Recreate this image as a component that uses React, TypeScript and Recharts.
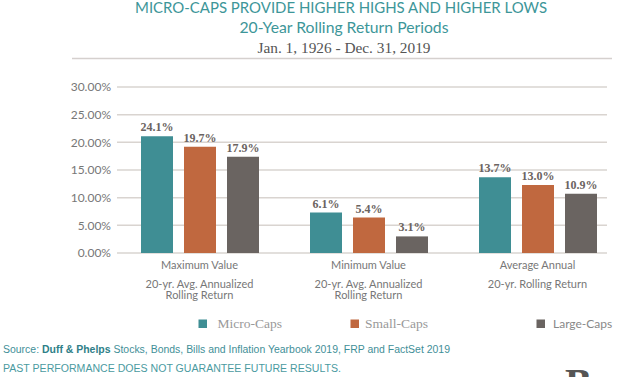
import React from 'react';
import { BarChart, Bar, XAxis, YAxis, CartesianGrid, LabelList } from 'recharts';

const categories = ['Maximum Value', 'Minimum Value', 'Average Annual'];
const categoryNotes = [
  ['20-yr. Avg. Annualized', 'Rolling Return'],
  ['20-yr. Avg. Annualized', 'Rolling Return'],
  ['20-yr. Rolling Return'],
];

// bar heights as drawn, labels as printed
const microCaps = [21.1, 7.3, 13.7];
const smallCaps = [19.2, 6.4, 12.3];
const largeCaps = [17.4, 3.0, 10.7];

const microLabels = ['24.1%', '6.1%', '13.7%'];
const smallLabels = ['19.7%', '5.4%', '13.0%'];
const largeLabels = ['17.9%', '3.1%', '10.9%'];

const yTicks = [0, 5, 10, 15, 20, 25, 30];

const SERIES = [
  { key: 'micro', label: 'microLabel', name: 'Micro-Caps', color: '#3f8e94' },
  { key: 'small', label: 'smallLabel', name: 'Small-Caps', color: '#c0683f' },
  { key: 'large', label: 'largeLabel', name: 'Large-Caps', color: '#6a6461' },
];

const data = categories.map((name, i) => ({
  name,
  micro: microCaps[i],
  small: smallCaps[i],
  large: largeCaps[i],
  microLabel: microLabels[i],
  smallLabel: smallLabels[i],
  largeLabel: largeLabels[i],
}));

const TEAL = '#3d9699';
const SANS = 'Lato, "Open Sans", sans-serif';
const SERIF = '"Liberation Serif", "DejaVu Serif", serif';

function CategoryTick(props: any) {
  const { x, y, payload, index } = props;
  const notes = categoryNotes[index] ?? [];
  return (
    <g>
      <text x={x} y={y + 16} textAnchor="middle" fontFamily={SANS} fontSize={11} fill="#777">
        {payload.value}
      </text>
      {notes.map((line, j) => (
        <text key={j} x={x} y={y + 34.5 + j * 11.6} textAnchor="middle" fontFamily={SANS} fontSize={11} fill="#777">
          {line}
        </text>
      ))}
    </g>
  );
}

export default function App() {
  return (
    <div style={{ position: 'absolute', left: 0, top: 0, width: 630, height: 377, background: '#fff' }}>
      <BarChart
        width={630}
        height={377}
        data={data}
        margin={{ top: 87, right: 23, left: 0, bottom: 94 }}
        barSize={32}
        barGap={11}
      >
        <CartesianGrid vertical={false} stroke="#d9d4d0" strokeWidth={1.5} />
        <XAxis
          dataKey="name"
          height={30}
          axisLine={false}
          tickLine={false}
          tickSize={0}
          tickMargin={0}
          interval={0}
          padding={{ left: -2, right: -15 }}
          tick={<CategoryTick />}
        />
        <YAxis
          width={117}
          domain={[0, 30]}
          ticks={yTicks}
          axisLine={false}
          tickLine={false}
          tickSize={0}
          tickMargin={6}
          tickFormatter={(v: number) => `${v.toFixed(2)}%`}
          tick={{ fontSize: 12, fontFamily: SANS, fill: '#777' }}
        />
        {SERIES.map((s) => (
          <Bar key={s.key} dataKey={s.key} fill={s.color} isAnimationActive={false}>
            <LabelList
              dataKey={s.label}
              position="top"
              offset={5}
              fill="#6b6461"
              fontFamily={SERIF}
              fontWeight="bold"
              fontSize={12}
            />
          </Bar>
        ))}
      </BarChart>

      <svg width={630} height={377} style={{ position: 'absolute', left: 0, top: 0, pointerEvents: 'none' }}>
        <text x={341} y={13} textAnchor="middle" fontFamily={SANS} fontSize={14.5} fill={TEAL}
          textLength={412} lengthAdjust="spacingAndGlyphs">
          MICRO-CAPS PROVIDE HIGHER HIGHS AND HIGHER LOWS
        </text>
        <text x={344} y={32.5} textAnchor="middle" fontFamily={SANS} fontSize={15} fill={TEAL}
          textLength={209} lengthAdjust="spacingAndGlyphs">
          20-Year Rolling Return Periods
        </text>
        <text x={344} y={53} textAnchor="middle" fontFamily={SERIF} fontSize={14.5} fill="#555"
          textLength={173} lengthAdjust="spacingAndGlyphs">
          Jan. 1, 1926 - Dec. 31, 2019
        </text>
        <line x1={72} x2={612} y1={58.5} y2={58.5} stroke="#d5d0ce" strokeWidth={1.5} />

        {/* legend */}
        <rect x={198.5} y={319.5} width={8.5} height={8.5} fill={SERIES[0].color} />
        <text x={217.5} y={328.3} fontFamily={SERIF} fontSize={13.5} fill="#999">{SERIES[0].name}</text>
        <rect x={350.5} y={319.5} width={8.5} height={8.5} fill={SERIES[1].color} />
        <text x={365} y={328.3} fontFamily={SERIF} fontSize={13.5} fill="#999">{SERIES[1].name}</text>
        <rect x={536.5} y={319.5} width={8.5} height={8.5} fill={SERIES[2].color} />
        <text x={553} y={327.7} fontFamily={SANS} fontSize={12} fill="#888">{SERIES[2].name}</text>

        {/* footer */}
        <text x={3} y={353.3} fontFamily='"Liberation Sans", Arial, sans-serif' fontSize={10} fill="#3f8f98"
          textLength={447} lengthAdjust="spacingAndGlyphs">
          Source: <tspan fontWeight="bold" fill="#2f7f88">Duff &amp; Phelps</tspan> Stocks, Bonds, Bills and Inflation Yearbook 2019, FRP and FactSet 2019
        </text>
        <text x={3} y={371.7} fontFamily='"Liberation Sans", Arial, sans-serif' fontSize={10} fill="#4a9a9f"
          textLength={338} lengthAdjust="spacingAndGlyphs">
          PAST PERFORMANCE DOES NOT GUARANTEE FUTURE RESULTS.
        </text>
        <text x={565} y={395.5} fontFamily={SERIF} fontWeight="bold" fontSize={40} fill="#555">B</text>
      </svg>
    </div>
  );
}
